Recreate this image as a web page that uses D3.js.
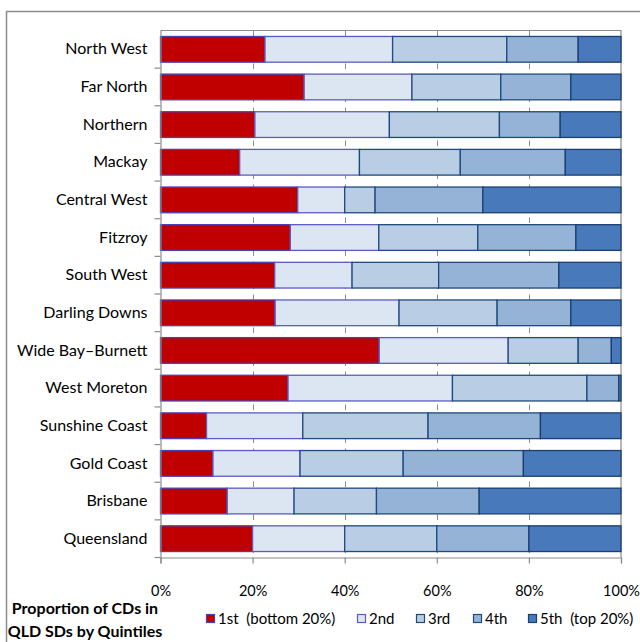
<!DOCTYPE html>
<html>
<head>
<meta charset="utf-8">
<script src="https://cdn.jsdelivr.net/npm/d3@7"></script>
<style>
  html, body { margin: 0; padding: 0; background: #fff; }
  svg { display: block; font-family: Lato, "Open Sans", sans-serif; }
</style>
</head>
<body>
<svg id="chart" width="640" height="642"></svg>
<script>
// Statistical divisions, top to bottom
const divisions = [
  "North West", "Far North", "Northern", "Mackay", "Central West", "Fitzroy",
  "South West", "Darling Downs", "Wide Bay\u2013Burnett", "West Moreton",
  "Sunshine Coast", "Gold Coast", "Brisbane", "Queensland"
];

// Share of CDs (%) in each quintile, one array per quintile
const q1 = [22.7, 31.2, 20.5, 17.2, 29.8, 28.2, 24.8, 24.9, 47.5, 27.7, 10.0, 11.4, 14.5, 20.0];
const q2 = [27.7, 23.4, 29.2, 26.0, 10.2, 19.2, 16.8, 26.9, 28.0, 35.7, 20.9, 18.9, 14.5, 20.0];
const q3 = [24.8, 19.3, 23.9, 21.9,  6.6, 21.5, 18.8, 21.3, 15.2, 29.2, 27.2, 22.4, 17.9, 20.0];
const q4 = [15.5, 15.2, 13.2, 22.8, 23.4, 21.3, 26.1, 16.0,  7.2,  6.9, 24.4, 26.1, 22.3, 20.0];
const q5 = [ 9.3, 10.9, 13.2, 12.1, 30.0,  9.8, 13.5, 10.9,  2.1,  0.5, 17.5, 21.2, 30.8, 20.0];

const seriesNames = ["1st  (bottom 20%)", "2nd", "3rd", "4th", "5th  (top 20%)"];
const seriesValues = [q1, q2, q3, q4, q5];
const fills = ["#C00000", "#DCE6F2", "#B9CDE5", "#95B3D7", "#4879BA"];
const strokes = ["#4B3FB5", "#5C5CC0", "#1F4A7C", "#1F4A7C", "#1A3F70"];

const xTicks = [0, 20, 40, 60, 80, 100];

const svg = d3.select("#chart");

// Outer chart frame
svg.append("path")
  .attr("d", "M6.5,700 V11.5 H700")
  .attr("fill", "none")
  .attr("stroke", "#8c8c8c")
  .attr("stroke-width", 1.5);

const plot = { left: 160.5, right: 621, top: 30.5, bottom: 557.5 };

const x = d3.scaleLinear().domain([0, 100]).range([plot.left, plot.right]);
const y = d3.scaleBand()
  .domain(divisions)
  .range([plot.top, plot.bottom])
  .paddingInner(0.317)
  .paddingOuter(0.1585);

// Rows for stacking
const rows = divisions.map((d, i) => {
  const r = { division: d };
  seriesNames.forEach((s, k) => { r[s] = seriesValues[k][i]; });
  return r;
});
const stacked = d3.stack().keys(seriesNames)(rows);

// Dashed vertical gridlines
svg.append("g")
  .selectAll("line")
  .data(xTicks.slice(1, -1))
  .join("line")
  .attr("x1", d => Math.round(x(d)) + 0.5)
  .attr("x2", d => Math.round(x(d)) + 0.5)
  .attr("y1", plot.top)
  .attr("y2", plot.bottom)
  .attr("stroke", "#8c8c8c")
  .attr("stroke-width", 1)
  .attr("stroke-dasharray", "5.5,5.5");

// Plot area top and right edges
svg.append("path")
  .attr("d", `M${plot.left},${plot.top} H${plot.right} V${plot.bottom}`)
  .attr("fill", "none")
  .attr("stroke", "#8c8c8c")
  .attr("stroke-width", 1.2);

// Stacked bars
svg.append("g")
  .selectAll("g")
  .data(stacked)
  .join("g")
  .attr("fill", (d, i) => fills[i])
  .attr("stroke", (d, i) => strokes[i])
  .attr("stroke-width", 1.3)
  .selectAll("rect")
  .data(d => d.map(v => ({ v, division: v.data.division })))
  .join("rect")
  .attr("x", d => x(d.v[0]))
  .attr("width", d => Math.max(0, x(d.v[1]) - x(d.v[0])))
  .attr("y", d => y(d.division))
  .attr("height", y.bandwidth());

// Category axis
const yAxis = svg.append("g")
  .attr("transform", `translate(${plot.left},0)`)
  .call(d3.axisLeft(y).tickSize(0).tickPadding(13));
yAxis.select(".domain").attr("stroke", "#8c8c8c").attr("stroke-width", 1.2);
yAxis.selectAll("text")
  .attr("font-size", 16)
  .attr("fill", "#000")
  .attr("font-family", "Lato, sans-serif");

// Category boundary ticks
const bounds = divisions.map(d => y(d) - y.step() * y.paddingInner() / 2)
  .concat([plot.bottom]);
svg.append("g")
  .selectAll("line")
  .data(bounds.slice(1))
  .join("line")
  .attr("x1", plot.left - 6)
  .attr("x2", plot.left)
  .attr("y1", d => d)
  .attr("y2", d => d)
  .attr("stroke", "#8c8c8c")
  .attr("stroke-width", 1.2);

// Value axis
const xAxis = svg.append("g")
  .attr("transform", `translate(0,${plot.bottom})`)
  .call(d3.axisBottom(x).tickValues(xTicks).tickFormat(d => d + "%").tickSize(6).tickPadding(22));
xAxis.select(".domain").attr("stroke", "#8c8c8c").attr("stroke-width", 1.2);
xAxis.selectAll(".tick line").attr("stroke", "#8c8c8c").attr("stroke-width", 1.2);
xAxis.selectAll("text")
  .attr("font-size", 14.5)
  .attr("fill", "#000")
  .attr("font-family", "Lato, sans-serif");

// Title
const title = svg.append("text")
  .attr("x", 85)
  .attr("text-anchor", "middle")
  .attr("font-size", 16)
  .attr("font-weight", "bold")
  .attr("font-family", "Lato, sans-serif")
  .attr("fill", "#000");
title.append("tspan").attr("x", 85).attr("y", 614).text("Proportion of CDs in");
title.append("tspan").attr("x", 85).attr("y", 637).text("QLD SDs by Quintiles");

// Legend
const legendX = [206, 357, 416, 473, 528];
const legend = svg.append("g")
  .selectAll("g")
  .data(seriesNames)
  .join("g")
  .attr("transform", (d, i) => `translate(${legendX[i]},619)`);
legend.append("rect")
  .attr("x", 0.5)
  .attr("y", -4.5)
  .attr("width", 8)
  .attr("height", 8)
  .attr("fill", (d, i) => fills[i])
  .attr("stroke", (d, i) => strokes[i])
  .attr("stroke-width", 1.2);
legend.append("text")
  .attr("x", 12)
  .attr("y", 0)
  .attr("dy", "0.35em")
  .attr("font-size", 15)
  .attr("font-family", "Lato, sans-serif")
  .attr("fill", "#000")
  .attr("xml:space", "preserve")
  .style("white-space", "pre")
  .text(d => d);
</script>
</body>
</html>
